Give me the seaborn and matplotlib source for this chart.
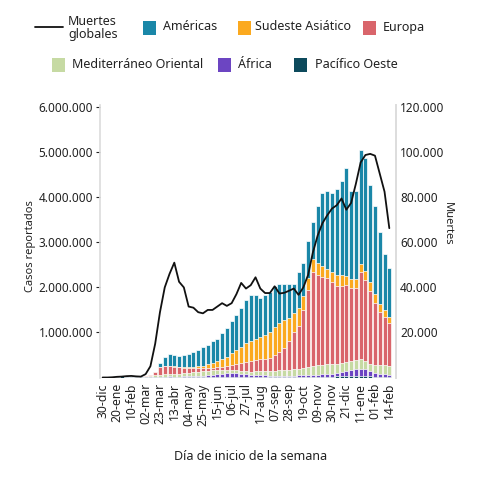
import numpy as np
import pandas as pd
import matplotlib
matplotlib.use("Agg")
import matplotlib.pyplot as plt
import seaborn as sns
from matplotlib.patches import Rectangle
from matplotlib.lines import Line2D
from matplotlib.ticker import FuncFormatter, FixedLocator

# ---------------- data (weekly, millions of cases / deaths) ----------------
semanas = list(range(61))
etiquetas = ["30-dic", "20-ene", "10-feb", "02-mar", "23-mar", "13-abr", "04-may",
             "25-may", "15-jun", "06-jul", "27-jul", "17-aug", "07-sep", "28-sep",
             "19-oct", "09-nov", "30-nov", "21-dic", "11-ene", "01-feb", "14-feb"]

pacifico = [0, 0, 0.003, 0.015, 0.025, 0.02, 0.015, 0.01, 0.008, 0.01,
            0.01, 0.01, 0.012, 0.015, 0.015, 0.012, 0.01, 0.008, 0.008, 0.008,
            0.008, 0.008, 0.008, 0.008, 0.01, 0.012, 0.014, 0.016, 0.016, 0.015,
            0.014, 0.014, 0.014, 0.014, 0.014, 0.014, 0.014, 0.014, 0.014, 0.014,
            0.014, 0.014, 0.015, 0.016, 0.016, 0.017, 0.018, 0.02, 0.022, 0.025,
            0.027, 0.03, 0.032, 0.033, 0.032, 0.028, 0.024, 0.02, 0.018, 0.017,
            0.016]
africa = [0, 0, 0, 0, 0, 0, 0, 0, 0, 0,
          0, 0, 0.003, 0.005, 0.008, 0.01, 0.012, 0.015, 0.018, 0.022,
          0.03, 0.035, 0.045, 0.055, 0.065, 0.075, 0.08, 0.08, 0.075, 0.065,
          0.055, 0.045, 0.04, 0.035, 0.032, 0.03, 0.03, 0.03, 0.028, 0.028,
          0.03, 0.032, 0.035, 0.038, 0.04, 0.045, 0.05, 0.055, 0.065, 0.075,
          0.09, 0.11, 0.13, 0.15, 0.16, 0.15, 0.11, 0.09, 0.07, 0.06,
          0.05]
mediterraneo = [0, 0, 0, 0, 0, 0, 0, 0, 0, 0.01,
                0.02, 0.04, 0.05, 0.05, 0.05, 0.06, 0.06, 0.07, 0.08, 0.09,
                0.09, 0.10, 0.10, 0.10, 0.09, 0.08, 0.07, 0.07, 0.07, 0.07,
                0.07, 0.07, 0.08, 0.09, 0.09, 0.10, 0.11, 0.12, 0.12, 0.13,
                0.14, 0.15, 0.17, 0.19, 0.21, 0.22, 0.22, 0.22, 0.21, 0.20,
                0.20, 0.20, 0.20, 0.20, 0.21, 0.18, 0.17, 0.17, 0.18, 0.19,
                0.19]
europa = [0, 0, 0, 0, 0, 0, 0, 0, 0, 0.005,
          0.03, 0.07, 0.175, 0.19, 0.177, 0.158, 0.143, 0.122, 0.099, 0.08,
          0.072, 0.057, 0.057, 0.057, 0.065, 0.073, 0.091, 0.114, 0.139, 0.18,
          0.211, 0.241, 0.256, 0.261, 0.274, 0.296, 0.336, 0.396, 0.498, 0.628,
          0.816, 0.954, 1.28, 1.706, 2.084, 1.998, 1.952, 1.905, 1.833, 1.74,
          1.713, 1.72, 1.618, 1.597, 1.948, 1.812, 1.606, 1.38, 1.192, 1.083,
          0.944]
sudeste = [0, 0, 0, 0, 0, 0, 0, 0, 0, 0,
           0, 0, 0.003, 0.005, 0.008, 0.01, 0.012, 0.015, 0.02, 0.03,
           0.045, 0.06, 0.09, 0.11, 0.14, 0.18, 0.205, 0.26, 0.31, 0.35,
           0.41, 0.44, 0.46, 0.51, 0.54, 0.58, 0.64, 0.66, 0.62, 0.52,
           0.43, 0.39, 0.30, 0.25, 0.27, 0.26, 0.23, 0.22, 0.22, 0.24,
           0.24, 0.20, 0.20, 0.20, 0.18, 0.20, 0.20, 0.20, 0.17, 0.14,
           0.15]
americas = [0, 0, 0, 0, 0, 0, 0, 0, 0, 0,
            0, 0, 0.077, 0.195, 0.262, 0.24, 0.243, 0.27, 0.295, 0.33,
            0.365, 0.41, 0.42, 0.47, 0.49, 0.56, 0.63, 0.72, 0.78, 0.86,
            0.95, 1.02, 0.98, 0.85, 0.88, 0.87, 0.90, 0.85, 0.79, 0.76,
            0.65, 0.81, 0.74, 0.82, 0.84, 1.26, 1.62, 1.72, 1.74, 1.90,
            2.10, 2.39, 1.95, 1.95, 2.53, 2.50, 2.17, 1.94, 1.59, 1.25,
            1.09]
muertes = [0, 0, 100, 300, 400, 600, 700, 500, 400, 1500,
           5000, 15000, 29000, 40000, 46000, 51000, 42500, 40000, 31500, 31000,
           29000, 28500, 30000, 30000, 31500, 33000, 31800, 33000, 37000, 42000,
           39500, 41000, 44500, 39500, 37500, 37500, 40500, 37300, 37600, 38500,
           39500, 36700, 40000, 45500, 55500, 63000, 68500, 72000, 75000, 76500,
           79500, 74500, 77500, 86000, 95500, 98800, 99300, 98500, 90500, 82500,
           66300]

regiones = ["Pacífico Oeste", "África", "Mediterráneo Oriental", "Europa",
            "Sudeste Asiático", "Américas"]
colores = {"Pacífico Oeste": "#0d4a5c", "África": "#6c45c2",
           "Mediterráneo Oriental": "#c6daa3", "Europa": "#d9656b",
           "Sudeste Asiático": "#fba91f", "Américas": "#1a87a8"}

df = pd.DataFrame({"semana": semanas,
                   "Pacífico Oeste": np.array(pacifico) * 1e6,
                   "África": np.array(africa) * 1e6,
                   "Mediterráneo Oriental": np.array(mediterraneo) * 1e6,
                   "Europa": np.array(europa) * 1e6,
                   "Sudeste Asiático": np.array(sudeste) * 1e6,
                   "Américas": np.array(americas) * 1e6,
                   "muertes": muertes})
acum = df[regiones].cumsum(axis=1)

# ---------------- figure ----------------
sns.set_theme(style="white")
plt.rcParams['font.family'] = ['Noto Sans', 'DejaVu Sans']
txt = "#222222"

fig = plt.figure(figsize=(4.8, 4.8), dpi=100)
ax = fig.add_axes([100 / 480, (480 - 377.5) / 480, 296 / 480, 272.5 / 480])

for reg in regiones[::-1]:
    sns.barplot(x=df["semana"], y=acum[reg], color=colores[reg], saturation=1,
                width=0.84, edgecolor="white", linewidth=0.5, ax=ax)

ax.set_ylim(0, 6.05e6)
ax.set_xlim(-0.55, 61.4)
fmt = FuncFormatter(lambda v, p: "" if v == 0 else f"{int(round(v)):,}".replace(",", "."))
ax.yaxis.set_major_locator(FixedLocator([1e6, 2e6, 3e6, 4e6, 5e6, 6e6]))
ax.yaxis.set_major_formatter(fmt)
ax.set_xticks(list(range(0, 61, 3)))
ax.set_xticklabels(etiquetas, rotation=90, fontsize=8.8, color=txt)
ax.set_xlabel("")
ax.set_ylabel("")
ax.tick_params(axis="y", labelsize=8.5, colors=txt, length=3, width=0.8, pad=2, left=True)
ax.tick_params(axis="x", length=0, pad=4)
for s in ["top", "bottom"]:
    ax.spines[s].set_visible(False)
ax.spines["left"].set_color("#dddddd")
ax.spines["right"].set_color("#dddddd")

ax2 = ax.twinx()
sns.lineplot(x=df["semana"], y=df["muertes"], color="#111111", linewidth=1.3, ax=ax2)
ax2.set_ylim(0, 121000)
ax2.set_xlim(-0.55, 61.4)
ax2.yaxis.set_major_locator(FixedLocator([20000, 40000, 60000, 80000, 100000, 120000]))
ax2.yaxis.set_major_formatter(fmt)
ax2.set_ylabel("")
ax2.set_xlabel("")
ax2.tick_params(axis="y", labelsize=8.5, colors=txt, length=0, pad=3, right=True)
for s in ["top", "bottom", "left"]:
    ax2.spines[s].set_visible(False)
ax2.spines["right"].set_color("#dddddd")

fig.text(30 / 480, 1 - 246 / 480, "Casos reportados", rotation=90, ha="center",
         va="center", fontsize=8, color=txt)
fig.text(447 / 480, 1 - 224 / 480, "Muertes", rotation=270, ha="center",
         va="center", fontsize=8, color=txt)
fig.text(251 / 480, 1 - 456 / 480, "Día de inicio de la semana", ha="center",
         va="center", fontsize=9, color=txt)

# ---------------- legend ----------------
def fx(px):
    return px / 480

def fy(py):
    return 1 - py / 480

fig.add_artist(Line2D([fx(35), fx(63)], [fy(26.5), fy(26.5)], color="#111111",
                      linewidth=1.3, transform=fig.transFigure))
fig.text(fx(68), fy(28), "Muertes\nglobales", ha="left", va="center",
         fontsize=9, color=txt, linespacing=1.0)

items = [("Américas", 143, 163, 28), ("Sudeste Asiático", 238, 255, 28),
         ("Europa", 363, 383, 28), ("Mediterráneo Oriental", 52, 72, 65),
         ("África", 218, 238, 65), ("Pacífico Oeste", 294, 315, 65)]
for name, sx, tx, cy in items:
    fig.add_artist(Rectangle((fx(sx), fy(cy + 6.5)), 13 / 480, 13 / 480,
                             facecolor=colores[name], edgecolor="none",
                             transform=fig.transFigure))
    fig.text(fx(tx), fy(cy - 1), name, ha="left", va="center", fontsize=9, color=txt)

fig.savefig("out.png", dpi=100, facecolor="white")
